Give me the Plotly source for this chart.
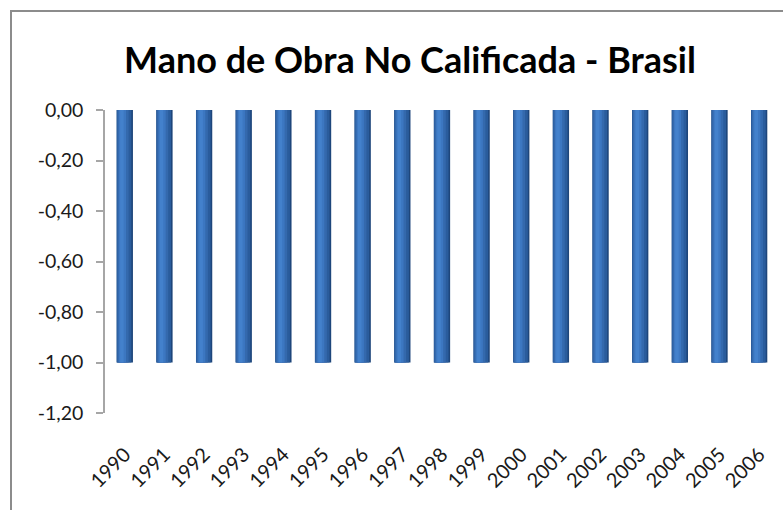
import plotly.graph_objects as go

years = ["1990", "1991", "1992", "1993", "1994", "1995", "1996", "1997", "1998",
         "1999", "2000", "2001", "2002", "2003", "2004", "2005", "2006"]
values = [-1.00, -1.00, -1.00, -1.00, -1.00, -1.00, -1.00, -1.00, -1.00,
          -1.00, -1.00, -1.00, -1.00, -1.00, -1.00, -1.00, -1.00]
y_tickvals = [0.0, -0.2, -0.4, -0.6, -0.8, -1.0, -1.2]
y_ticktext = ["0,00", "-0,20", "-0,40", "-0,60", "-0,80", "-1,00", "-1,20"]
title_text = "Mano de Obra No Calificada - Brasil"

FONT = "Lato, 'Open Sans', sans-serif"
W, H = 783, 510
ML, MR, MT, MB = 105, 4, 110, 97

fig = go.Figure()

# layered bars to mimic the cylinder-like shading of the original
layers = [
    (0.41, -0.205, "#1E467B"),
    (0.37, -0.205, "#2A5C9C"),
    (0.28, -0.185, "#3469AD"),
    (0.18, -0.15, "#3C77C1"),
    (0.09, -0.12, "#4381CC"),
]
for w, off, col in layers:
    fig.add_trace(go.Bar(
        x=years, y=values, width=w, offset=off,
        marker=dict(color=col, line=dict(width=0)),
        hoverinfo="skip", showlegend=False,
    ))

n = len(years)
fig.update_layout(
    width=W, height=H,
    margin=dict(l=ML, r=MR, t=MT, b=MB, autoexpand=False),
    paper_bgcolor="white", plot_bgcolor="white",
    barmode="overlay",
    showlegend=False,
    font=dict(family=FONT, color="#1a1a1a"),
    title=dict(text=title_text, x=410 / W, xanchor="center",
               y=1 - 60 / H, yanchor="middle",
               font=dict(family=FONT, size=36, color="black", weight="bold")),
    xaxis=dict(
        type="category", range=[-0.5, n - 0.5],
        showline=False, showgrid=False, zeroline=False,
        ticks="outside", ticklen=21, tickcolor="rgba(0,0,0,0)",
        tickangle=-45, tickfont=dict(size=20, family=FONT, color="#1a1a1a"),
        automargin=False,
    ),
    xaxis2=dict(
        overlaying="x", anchor="y", side="top",
        range=[-0.5, n - 0.5],
        tickvals=[i - 0.5 for i in range(n + 1)],
        showticklabels=False, showgrid=False, zeroline=False,
        showline=True, linecolor="#a6a6a6", linewidth=1.5,
        ticks="inside", ticklen=6, tickcolor="#a6a6a6", tickwidth=1.5,
    ),
    yaxis=dict(
        range=[-1.2, 0], tickvals=y_tickvals, ticktext=y_ticktext,
        showgrid=False, zeroline=False,
        showline=True, linecolor="#a6a6a6", linewidth=1.5,
        ticks="outside", ticklen=7, tickcolor="#a6a6a6", tickwidth=1.5,
        ticklabelstandoff=9, automargin=False,
        tickfont=dict(size=19.5, family=FONT, color="#1a1a1a"),
    ),
)

# chart border (left & top edges visible in the original, frame extends past the image)
pw = W - ML - MR
ph = H - MT - MB
def px_x(px):
    return (px - ML) / pw
def px_y(py):
    return (H - MB - py) / ph
fig.add_shape(type="rect", xref="paper", yref="paper",
              x0=px_x(11), x1=px_x(800), y0=px_y(530), y1=px_y(11),
              line=dict(color="#8c8c8c", width=2), fillcolor="rgba(0,0,0,0)",
              layer="below")

fig.write_html("out.html", config={"displayModeBar": False},
               post_script="document.body.style.margin='0';document.body.style.overflow='hidden';")
